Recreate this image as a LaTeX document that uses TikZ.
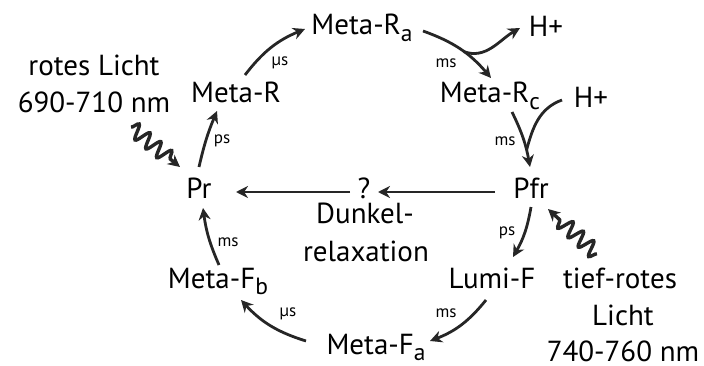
\documentclass[tikz,border=0pt]{standalone}
\usepackage{fontspec}
\setmainfont{PT Sans}
\usetikzlibrary{arrows.meta,decorations.pathmorphing}
\newcommand\lsub[1]{\raisebox{-6.5pt}{\fontsize{23.5}{23.5}\selectfont #1}}
\begin{document}
\begin{tikzpicture}[x=1pt,y=1pt,
  lbl/.style={anchor=base, inner sep=0pt, font=\fontsize{29}{29}\selectfont},
  tm/.style={inner sep=0pt, font=\fontsize{17}{17}\selectfont},
  arr/.style={line width=2.8pt, draw=black!85, -{Stealth[length=12pt,width=12pt]}},
  wave/.style={line width=3.4pt, draw=black!85,
    decoration={snake, segment length=14pt, amplitude=7.5pt, post length=10pt},
    decorate, -{Stealth[length=12pt,width=12pt]}}]
\useasboundingbox (0,0) rectangle (704,365);
% main labels
\node[lbl] (rl1) at (94,289) {rotes Licht};
\node[lbl] (rl2) at (94,253) {690-710 nm};
\node[lbl] (metaR) at (236,262) {Meta-R};
\node[lbl] (metaRa) at (362,330) {Meta-R\lsub{a}};
\node[lbl] (hp1) at (546,328) {H+};
\node[lbl] (metaRc) at (490,262) {Meta-R\lsub{c}};
\node[lbl] (hp2) at (591,258) {H+};
\node[lbl] (pfr) at (531,167) {Pfr};
\node[lbl] (q) at (364,167) {?};
\node[lbl] (dk1) at (365,142) {Dunkel-};
\node[lbl] (dk2) at (366,104) {relaxation};
\node[lbl] (pr) at (199,167) {Pr};
\node[lbl] (lumi) at (492,77) {Lumi-F};
\node[lbl] (tf1) at (620,77) {tief-rotes};
\node[lbl] (tf2) at (623,40) {Licht};
\node[lbl] (tf3) at (623,4) {740-760 nm};
\node[lbl] (metaFa) at (376,11) {Meta-F\lsub{a}};
\node[lbl] (metaFb) at (218,77) {Meta-F\lsub{b}};
% time labels
\node[tm] (t1) at (222,224) {ps};
\node[tm] (t2) at (280,302) {µs};
\node[tm] (t3) at (446,302) {ms};
\node[tm] (t4) at (505,224) {ms};
\node[tm] (t5) at (507,132) {ps};
\node[tm] (t6) at (446,52) {ms};
\node[tm] (t7) at (288,51) {µs};
\node[tm] (t8) at (228,123) {ms};
% connectors
\draw[arr] ([shift={(0,31)}]pr.base) to[bend left=5] ([shift={(-19,-8)}]metaR.base);
\draw[arr] ([shift={(9,28)}]metaR.base) to[bend left=15] ([shift={(-57,6)}]metaRa.base);
\draw[arr] ([shift={(61,4)}]metaRa.base) to[bend left=15] coordinate[pos=0.55] (br1) ([shift={(1,25)}]metaRc.base);
\draw[arr] (br1) to[out=-20,in=210] ([shift={(-26,9)}]hp1.base);
\draw[arr] ([shift={(22,-9)}]metaRc.base) to[bend left=8] coordinate[pos=0.72] (br2) ([shift={(-1,31)}]pfr.base);
\draw[line width=2.8pt, draw=black!85] ([shift={(-29,7)}]hp2.base) to[out=200,in=75] (br2);
\draw[arr] ([shift={(-36,6)}]pfr.base) -- ([shift={(14,6)}]q.base);
\draw[arr] ([shift={(-14,6)}]q.base) -- ([shift={(37,6)}]pr.base);
\draw[arr] ([shift={(0,-9)}]pfr.base) to[bend left=10] ([shift={(21,31)}]lumi.base);
\draw[arr] ([shift={(-6,-12)}]lumi.base) to[bend left=15] ([shift={(54,13)}]metaFa.base);
\draw[arr] ([shift={(-70,13)}]metaFa.base) to[bend left=15] ([shift={(23,-12)}]metaFb.base);
\draw[arr] ([shift={(1,23)}]metaFb.base) to[bend left=8] ([shift={(4,-10)}]pr.base);
% light
\draw[wave] ([shift={(37,-15)}]rl2.base) -- ([shift={(-19,31)}]pr.base);
\draw[wave] ([shift={(-23,34)}]tf1.base) -- ([shift={(17,-11)}]pfr.base);
\end{tikzpicture}
\end{document}
